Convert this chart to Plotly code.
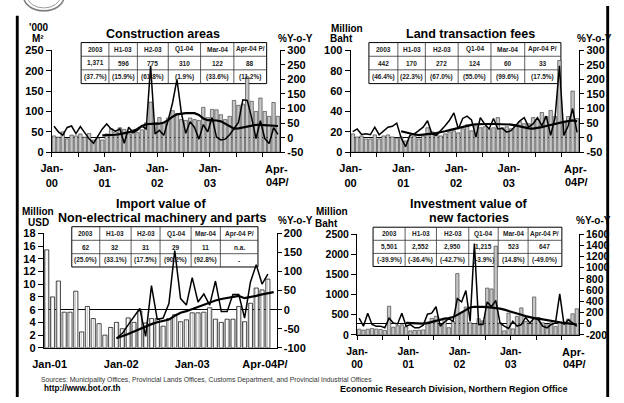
import plotly.graph_objects as go

W, H = 624, 403
FONT = "Liberation Sans"

# ---------------- data ----------------
M52 = list(range(52))   # Jan-00 .. Apr-04
M40 = list(range(40))   # Jan-01 .. Apr-04

con_area = [40, 37, 50, 33, 42, 40, 45, 37, 46, 30, 35, 30,
            45, 58, 50, 60, 56, 45, 55, 48, 55, 72, 123, 72,
            85, 72, 84, 102, 95, 80, 78, 84, 80, 78, 110, 85,
            105, 104, 92, 80, 88, 127, 115, 118, 185, 125, 100, 133,
            100, 88, 122, 88]
con_yoy = [39, 20, 9, 35, 40, 14, 38, 15, -4, -19, 5, 30,
           47, 30, 22, 30, -19, 36, 17, 25, 40, 30, 247, 13,
           25, 8, 60, 120, 200, 85, 15, 55, 35, -5, 45, 20,
           69, 2, -8, -5, 10, 30, 52, 130, 128, 69, -3, 58,
           -3, -20, 34, 11]
con_trend = [None] * 11 + [8, 8, 9, 10, 12, 15, 18, 22, 30, 40, 46, 48, 48, 48, 52,
                           60, 72, 80, 83, 84, 84, 84, 78, 66, 60, 60, 59, 56, 48, 38,
                           31, 32, 35, 38, 42, 44, 44, 43, 42, 41, 40]

land_fee = [18, 15, 16, 13, 13, 17, 13, 16, 17, 15, 14, 15,
            11, 15, 16, 13, 16, 24, 20, 19, 16, 18, 20, 21,
            19, 23, 27, 21, 26, 24, 25, 23, 24, 34, 24, 25,
            23, 27, 30, 28, 28, 34, 32, 39, 35, 41, 35, 90,
            29, 35, 60, 33]
land_yoy = [21, 30, 11, 13, 10, 36, 10, 24, 36, 39, 50, -1,
            -31, 8, 13, 24, 36, 58, 13, 8, 24, 41, 60, 85,
            30, 66, 74, 61, 2, 69, 47, 30, 66, 30, 32, 19,
            24, 41, 58, 69, 36, 47, 69, 41, 74, 8, 69, 247,
            8, 41, 100, 18]
land_trend = [None] * 11 + [22, 18, 14, 11, 9, 10, 12, 14, 16, 18, 22, 26, 30, 34, 38,
                            41, 44, 46, 47, 47, 47, 47, 47, 47, 47, 45, 42, 38, 34, 32,
                            31, 33, 36, 40, 44, 47, 50, 54, 57, 59, 56]

imp_value = [15.4, 8.0, 10.5, 5.6, 5.6, 8.9, 2.5, 6.5, 4.6, 3.8, 2.0, 3.2,
             4.0, 3.0, 4.7, 4.0, 5.8, 3.9, 4.6, 4.6, 3.4, 4.6, 5.2, 4.1,
             4.4, 5.5, 5.5, 5.6, 6.3, 4.5, 4.0, 4.5, 4.5, 6.5, 4.1, 7.0,
             9.4, 9.1, 10.8, None]
imp_yoy = [None] * 12 + [-75, -62, -40, -20, 3, -70, 63, -26, -22, 16, 155, 29,
                         12, 84, 20, 41, 12, 75, -5, -5, 40, 40, -22, 72,
                         118, 67, 93] + [None]
imp_trend = [None] * 12 + [-75, -70, -64, -57, -50, -45, -38, -33, -30, -26, -16, -8,
                           -4, 2, 8, 14, 20, 24, 28, 31, 33, 36, 30, 32,
                           36, 40, 43, 46]

inv_value = [140, 120, 140, 160, 145, 135, 110, 710, 190, 230, 250, 200,
             100, 110, 115, 125, 320, 410, 460, 270, 410, 180, 330, 1520,
             560, 690, 300, 280, 400, 350, 1160, 1140, 2200, 300, 100, 540,
             150, 460, 670, 330, 280, 940, 430, 300, 250, 300, 210, 300,
             300, 392, 523, 647]
inv_yoy = [100, -44, 187, -15, -44, -44, -73, 100, 13, -4, 187, -44,
           -15, -73, -73, -27, 169, 187, 302, -44, 31, 89, 42, 446,
           389, 590, 42, 1430, -15, -15, 389, 302, 417, 13, -44, -85,
           42, -44, -15, 112, 13, 100, 71, -44, -73, -15, 13, 533,
           -15, 71, 15, -49]
inv_trend = [None] * 11 + [13, 10, 5, 0, 0, 10, 30, 55, 75, 90, 100, 120, 157, 200, 250,
                           290, 302, 305, 300, 295, 290, 285, 270, 250, 230, 210, 187, 160,
                           135, 115, 100, 89, 75, 60, 42, 30, 20, 13, 5, 0, -15]

tbl_head = ["2003", "H1-03", "H2-03", "Q1-04", "Mar-04", "Apr-04 P/"]
con_tbl_val = ["1,371", "596", "775", "310", "122", "88"]
con_tbl_pct = ["(37.7%)", "(15.9%)", "(61.8%)", "(1.9%)", "(33.6%)", "(11.2%)"]
land_tbl_val = ["442", "170", "272", "124", "60", "33"]
land_tbl_pct = ["(46.4%)", "(22.3%)", "(67.0%)", "(55.0%)", "(99.6%)", "(17.5%)"]
imp_tbl_val = ["62", "32", "31", "29", "11", "n.a."]
imp_tbl_pct = ["(25.0%)", "(33.1%)", "(17.5%)", "(90.2%)", "(92.8%)", "-"]
inv_tbl_val = ["5,501", "2,552", "2,950", "1,215", "523", "647"]
inv_tbl_pct = ["(-39.9%)", "(-36.4%)", "(-42.7%)", "(-3.9%)", "(14.8%)", "(-49.0%)"]

tick52_vals = [-0.5, 5.5, 11.5, 17.5, 23.5, 29.5, 35.5, 41.5, 47.5]
tick52_text = ["Jan-<br>00", "", "Jan-<br>01", "", "Jan-<br>02", "", "Jan-<br>03", "", ""]
tick40_vals = [0.5, 12.8, 25.0, 37.5]
tick40_text = ["Jan-01", "Jan-02", "Jan-03", "Apr-04P/"]


# ---------------- helpers ----------------
def X(p):
    return p / W


def Y(p):
    return 1 - p / H


BOLD = dict(family=FONT, size=11, color="black", weight="bold")

fig = go.Figure()
layout = dict(width=W, height=H, margin=dict(l=0, r=0, t=0, b=0),
              paper_bgcolor="white", plot_bgcolor="rgba(0,0,0,0)",
              showlegend=False, font=dict(family=FONT, color="black"))

panels = [
    dict(k=1, px=(42.3, 279), py=(45.7, 150.7), x=M52, bars=con_area, yoy=con_yoy, trend=con_trend,
         lr=[0, 250], ld=50, rr=[-50, 300], rd=50, bw=0.78, xr=[-0.5, 51.5],
         tv=tick52_vals, tt=tick52_text, pattern=False, tsize=11),
    dict(k=2, px=(352, 589), py=(45.7, 150.7), x=M52, bars=land_fee, yoy=land_yoy, trend=land_trend,
         lr=[0, 100], ld=20, rr=[-50, 300], rd=50, bw=0.78, xr=[-0.5, 51.5],
         tv=tick52_vals, tt=tick52_text, pattern=False, tsize=11),
    dict(k=3, px=(34, 275.3), py=(234.3, 352.3), x=M40, bars=imp_value, yoy=imp_yoy, trend=imp_trend,
         lr=[0, 18], ld=2, rr=[-100, 200], rd=50, bw=0.72, xr=[-0.5, 39.5],
         tv=tick40_vals, tt=tick40_text, pattern=True, tsize=11),
    dict(k=4, px=(358.7, 588.7), py=(235, 339), x=M52, bars=inv_value, yoy=inv_yoy, trend=inv_trend,
         lr=[0, 2500], ld=500, rr=[-200, 1600], rd=200, bw=0.78, xr=[-0.5, 51.5],
         tv=tick52_vals, tt=tick52_text, pattern=False, tsize=10.5),
]

for p in panels:
    k = p["k"]
    xref = "x" if k == 1 else f"x{k}"
    yl = "y" if k == 1 else f"y{2 * k - 1}"
    yr = f"y{2 * k}"
    if p["pattern"]:
        marker = dict(color="white", line=dict(color="#202020", width=0.8),
                      pattern=dict(shape="|", fgcolor="#8a8a8a", bgcolor="white", size=3, solidity=0.35))
    else:
        marker = dict(color="#c6c6c6", line=dict(color="#303030", width=0.6))
    fig.add_trace(go.Bar(x=p["x"], y=p["bars"], xaxis=xref, yaxis=yl, width=p["bw"], marker=marker))
    fig.add_trace(go.Scatter(x=p["x"], y=p["trend"], xaxis=xref, yaxis=yr, mode="lines",
                             line=dict(color="black", width=2.2), connectgaps=False))
    fig.add_trace(go.Scatter(x=p["x"], y=p["yoy"], xaxis=xref, yaxis=yr, mode="lines",
                             line=dict(color="black", width=1.5), connectgaps=False))

    xname = "xaxis" if k == 1 else f"xaxis{k}"
    ylname = "yaxis" if k == 1 else f"yaxis{2 * k - 1}"
    yrname = f"yaxis{2 * k}"
    tf = dict(BOLD, size=p["tsize"])
    rvals = list(range(p["rr"][0], p["rr"][1] + 1, p["rd"]))
    layout[xname] = dict(domain=[X(p["px"][0]), X(p["px"][1])], range=p["xr"], anchor=yl,
                         tickmode="array", tickvals=p["tv"], ticktext=p["tt"],
                         ticks="outside" if k != 3 else "", ticklen=4, tickcolor="black",
                         showline=True, linecolor="black", linewidth=1,
                         showgrid=False, zeroline=False, tickfont=tf, ticklabelstandoff=2 if k != 3 else 6)
    layout[ylname] = dict(domain=[Y(p["py"][1]), Y(p["py"][0])], range=p["lr"], anchor=xref,
                          tickmode="linear", tick0=p["lr"][0], dtick=p["ld"],
                          ticks="outside", ticklen=5, tickcolor="black",
                          showline=True, linecolor="black", linewidth=1,
                          showgrid=False, zeroline=False, tickfont=tf)
    layout[yrname] = dict(overlaying=yl, side="right", anchor=xref, range=p["rr"],
                          tickmode="array", tickvals=rvals, ticktext=[str(v) for v in rvals],
                          ticks="outside", ticklen=4, tickcolor="black",
                          showline=True, linecolor="black", linewidth=1,
                          showgrid=False, zeroline=True, zerolinecolor="black", zerolinewidth=1,
                          tickfont=tf)

fig.update_layout(**layout)

ann = []
shapes = []


def txt(x, y, s, size=11, bold=True, xa="center", ya="middle", color="black"):
    ann.append(dict(x=X(x), y=Y(y), xref="paper", yref="paper", text=s, showarrow=False,
                    xanchor=xa, yanchor=ya,
                    font=dict(family=FONT, size=size, color=color, weight="bold" if bold else "normal")))


# titles
txt(158, 29, "Construction areas", 12.5)
txt(476, 29, "Land transaction fees", 12.5)
txt(155, 204.5, "Import value of", 12.5)
txt(157, 218.5, "Non-electrical machinery and parts", 12.5)
txt(475, 204.5, "Investment value of", 12.5)
txt(475, 218.5, "new factories", 12.5)

# axis unit labels
txt(29, 22.5, "'000", 10)
txt(28, 33, "M²", 10)
txt(295, 33, "%Y-o-Y", 10)
txt(348, 23, "Million", 10)
txt(343, 33, "Baht", 10)
txt(585, 33, "%Y-o-Y", 10, xa="left")
txt(27.5, 211.5, "Million", 10)
txt(28.5, 223, "USD", 10)
txt(294.5, 221, "%Y-o-Y", 10)
txt(333, 211.5, "Million", 10)
txt(327, 224, "Baht", 10)
txt(584, 221, "%Y-o-Y", 10, xa="left")

# last-month labels
for cx, cy in [(275, 168), (585, 168), (583, 357)]:
    txt(cx, cy, "Apr-", 11)
    txt(cx + 1, cy + 13 if cy < 300 else cy + 11.5, "04P/", 11)

# tables
tables = [
    ([72.7, 101.5, 131, 163, 196.5, 231, 265], [37.7, 51.8, 65.8, 80], con_tbl_val, con_tbl_pct),
    ([371, 401, 429.5, 463.5, 497.5, 532.5, 570], [37.7, 51.8, 65.8, 80], land_tbl_val, land_tbl_pct),
    ([63, 92, 124.5, 154.5, 186.7, 217, 256], [227.5, 241.5, 255.3, 269], imp_tbl_val, imp_tbl_pct),
    ([375.3, 408.5, 441, 474.5, 505, 536, 571], [228, 241.5, 255, 268.5], inv_tbl_val, inv_tbl_pct),
]
for xs, ys, vals, pcts in tables:
    shapes.append(dict(type="rect", xref="paper", yref="paper", x0=X(xs[0]), x1=X(xs[-1]),
                       y0=Y(ys[-1]), y1=Y(ys[0]), fillcolor="white",
                       line=dict(color="black", width=1), layer="below"))
    for xv in xs[1:-1]:
        shapes.append(dict(type="line", xref="paper", yref="paper", x0=X(xv), x1=X(xv),
                           y0=Y(ys[-1]), y1=Y(ys[0]), line=dict(color="#333333", width=0.8), layer="below"))
    for yv in ys[1:-1]:
        shapes.append(dict(type="line", xref="paper", yref="paper", x0=X(xs[0]), x1=X(xs[-1]),
                           y0=Y(yv), y1=Y(yv), line=dict(color="#333333", width=0.8), layer="below"))
    for r, row in enumerate([tbl_head, vals, pcts]):
        cy = (ys[r] + ys[r + 1]) / 2
        for c, s in enumerate(row):
            cx = (xs[c] + xs[c + 1]) / 2
            txt(cx, cy, s, 6.5, color="#222222")

# footer
txt(29, 385.5, "Sources: Municipality Offices, Provincial Lands Offices, Customs Department, and Provincial Industrial Offices",
    6.8, bold=False, xa="left", color="#333333")
txt(32, 394.5, "http://www.bot.or.th", 8.2, xa="left")
txt(339, 394.5, "Economic Research Division, Northern Region Office", 9, xa="left")

# frame and logo
shapes.append(dict(type="rect", xref="paper", yref="paper", x0=X(5), x1=X(8), y0=Y(403), y1=Y(10),
                   fillcolor="black", line=dict(width=0), layer="above"))
shapes.append(dict(type="rect", xref="paper", yref="paper", x0=X(617), x1=X(620), y0=Y(403), y1=Y(0),
                   fillcolor="black", line=dict(width=0), layer="above"))
shapes.append(dict(type="circle", xref="paper", yref="paper", x0=X(13), x1=X(55), y0=Y(5), y1=Y(-25),
                   line=dict(color="#7a7a7a", width=1.5), layer="above"))
shapes.append(dict(type="circle", xref="paper", yref="paper", x0=X(17), x1=X(51), y0=Y(2), y1=Y(-22),
                   line=dict(color="#9a9a9a", width=1), layer="above"))

fig.update_layout(annotations=ann, shapes=shapes)
fig.write_html("out.html", config={"displayModeBar": False, "staticPlot": True},
               post_script="document.body.style.margin='0';document.body.style.padding='0';"
                           "document.documentElement.style.overflow='hidden';document.body.style.overflow='hidden';")
